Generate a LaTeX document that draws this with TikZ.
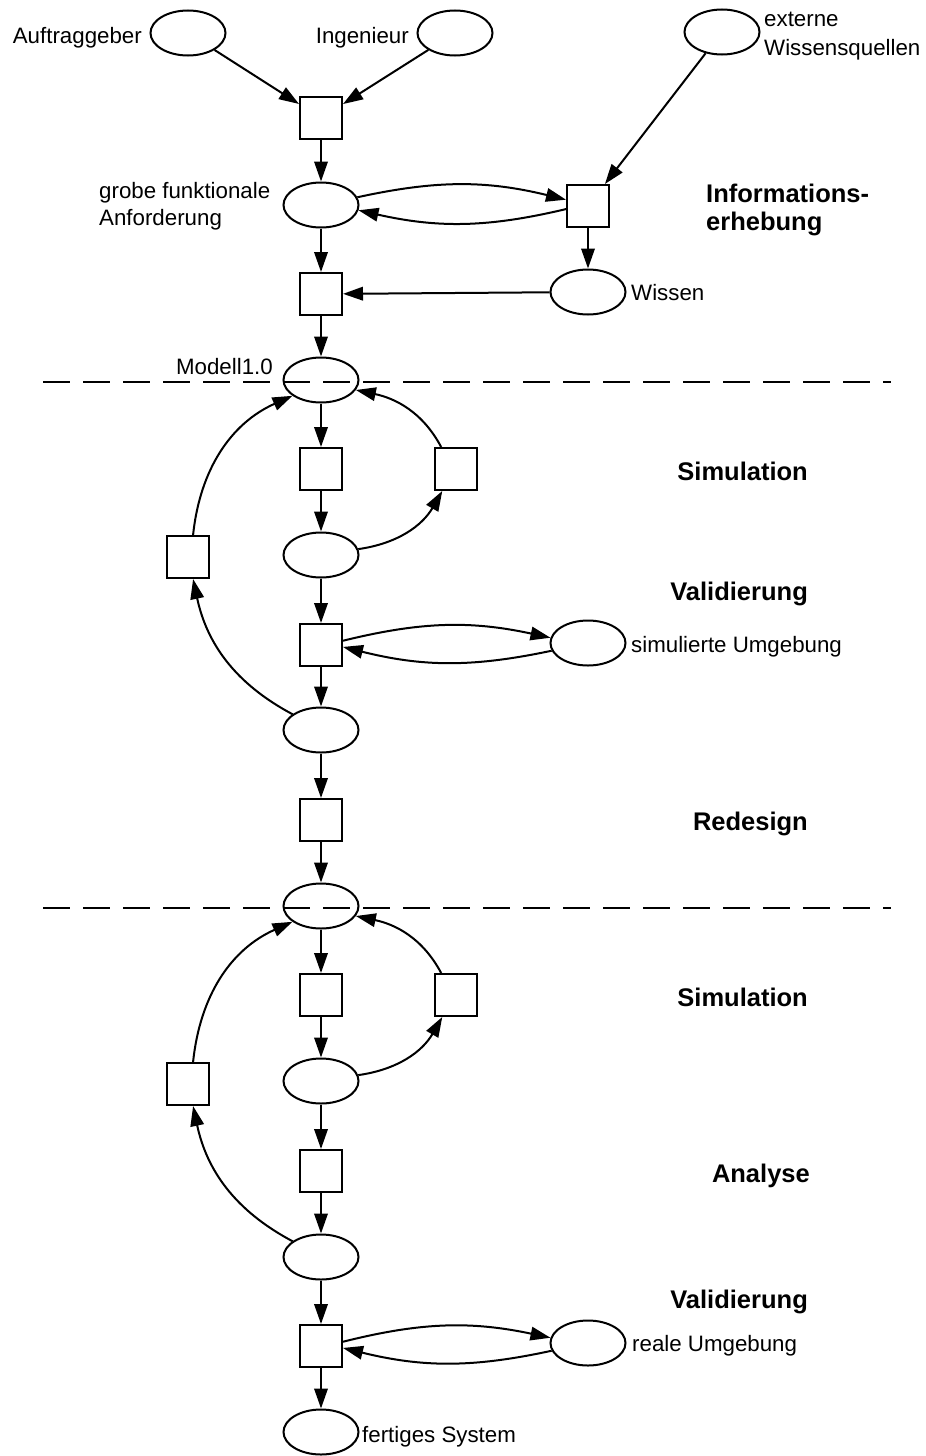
\documentclass[tikz,border=0pt]{standalone}
\usepackage{fontspec}
\setmainfont{Liberation Sans}
\usetikzlibrary{shapes.geometric,arrows.meta}
\tikzset{
  place/.style={ellipse,draw,line width=2pt,minimum width=75pt,minimum height=45pt,inner sep=0pt},
  trans/.style={rectangle,draw,line width=2pt,minimum size=42pt,inner sep=0pt},
  arr/.style={line width=2pt,-{Triangle[length=20pt,width=13.5pt]}},
  lab/.style={inner sep=0pt,font=\fontsize{22.3pt}{26pt}\selectfont},
  phase/.style={inner sep=0pt,font=\fontsize{25.5pt}{30pt}\selectfont\bfseries,anchor=base east},
  sep/.style={line width=1.8pt,dash pattern=on 27pt off 13pt}
}
\begin{document}
\begin{tikzpicture}[x=1pt,y=-1pt]
\useasboundingbox (0,0) rectangle (926,1456);
% places and transitions
\node[place] (A) at (188,33) {};
\node[place] (I) at (455,33) {};
\node[place] (E) at (722,32) {};
\node[trans] (T1) at (321,118) {};
\node[place] (G) at (321,205) {};
\node[trans] (T2) at (588,206) {};
\node[place] (W) at (588,292) {};
\node[trans] (T3) at (321,294) {};
\node[place] (M1) at (321,380) {};
\node[trans] (S1) at (321,469) {};
\node[trans] (R1) at (456,469) {};
\node[place] (P1) at (321,555) {};
\node[trans] (L1) at (188,557) {};
\node[trans] (VT1) at (321,645) {};
\node[place] (SU) at (588,643) {};
\node[place] (V1) at (321,730) {};
\node[trans] (RD) at (321,820) {};
\node[place] (M2) at (321,906) {};
\node[trans] (S2) at (321,995) {};
\node[trans] (R2) at (456,995) {};
\node[place] (P2) at (321,1081) {};
\node[trans] (L2) at (188,1084) {};
\node[trans] (AN) at (321,1171) {};
\node[place] (V2) at (321,1257) {};
\node[trans] (VT2) at (321,1346) {};
\node[place] (RU) at (588,1343) {};
\node[place] (FS) at (321,1432) {};
% labels
\node[lab,anchor=base east] (lA) at (142,43) {Auftraggeber};
\node[lab,anchor=base east] (lI) at (409,43) {Ingenieur};
\node[lab,anchor=base west] (lE1) at (764,27) {externe};
\node[lab,anchor=base west] (lE2) at (764,55) {Wissensquellen};
\node[lab,anchor=base west] (lG1) at (99,198) {grobe funktionale};
\node[lab,anchor=base west] (lG2) at (99,225) {Anforderung};
\node[lab,anchor=base west] (lW) at (631,300) {Wissen};
\node[lab,anchor=base east] (lM) at (273,374) {Modell1.0};
\node[lab,anchor=base west] (lSU) at (631,652) {simulierte Umgebung};
\node[lab,anchor=base west] (lRU) at (632,1351) {reale Umgebung};
\node[lab,anchor=base west] (lFS) at (362,1442) {fertiges System};
\node[phase,anchor=base west] (ph1a) at (706,202) {Informations-};
\node[phase,anchor=base west] (ph1b) at (706,230) {erhebung};
\node[phase] (ph2) at (808,480) {Simulation};
\node[phase] (ph3) at (808,600) {Validierung};
\node[phase] (ph4) at (808,830) {Redesign};
\node[phase] (ph5) at (808,1006) {Simulation};
\node[phase] (ph6) at (810,1182) {Analyse};
\node[phase] (ph7) at (808,1308) {Validierung};
% separators
\coordinate (D1a) at (43,382); \coordinate (D1b) at (891,382);
\coordinate (D2a) at (43,908); \coordinate (D2b) at (891,908);
\draw[sep] (D1a) -- (D1b);
\draw[sep] (D2a) -- (D2b);
% top part
\draw[arr] (A) -- (T1);
\draw[arr] (I) -- (T1);
\draw[arr] (T1) -- (G);
\draw[arr] (G.12) to[bend left=13] (T2.164);
\draw[arr] (T2.188) to[bend left=13] (G.-8);
\draw[arr] (E) -- (T2);
\draw[arr] (T2) -- (W);
\draw[arr] (W) -- (T3);
\draw[arr] (G) -- (T3);
\draw[arr] (T3) -- (M1);
% first model
\draw[arr] (M1) -- (S1);
\draw[arr] (S1) -- (P1);
\draw[arr] (P1.9) to[out=8,in=-120] (R1.-122);
\draw[arr] (R1.124) to[out=118,in=-12] (M1.-16);
\draw[arr] (P1) -- (VT1);
\draw[arr] (VT1.11) to[bend left=13] (SU.172);
\draw[arr] (SU.192) to[bend left=13] (VT1.-5);
\draw[arr] (VT1) -- (V1);
\draw[arr] (V1.151) to[out=152,in=-78] (L1.-77);
\draw[arr] (L1.77) to[out=84,in=-156] (M1.-151);
\draw[arr] (V1) -- (RD);
\draw[arr] (RD) -- (M2);
% second model
\draw[arr] (M2) -- (S2);
\draw[arr] (S2) -- (P2);
\draw[arr] (P2.9) to[out=8,in=-120] (R2.-122);
\draw[arr] (R2.124) to[out=118,in=-12] (M2.-16);
\draw[arr] (P2) -- (AN);
\draw[arr] (AN) -- (V2);
\draw[arr] (V2.151) to[out=152,in=-78] (L2.-77);
\draw[arr] (L2.77) to[out=84,in=-156] (M2.-151);
\draw[arr] (V2) -- (VT2);
\draw[arr] (VT2.11) to[bend left=13] (RU.172);
\draw[arr] (RU.192) to[bend left=13] (VT2.-5);
\draw[arr] (VT2) -- (FS);
\end{tikzpicture}
\end{document}
